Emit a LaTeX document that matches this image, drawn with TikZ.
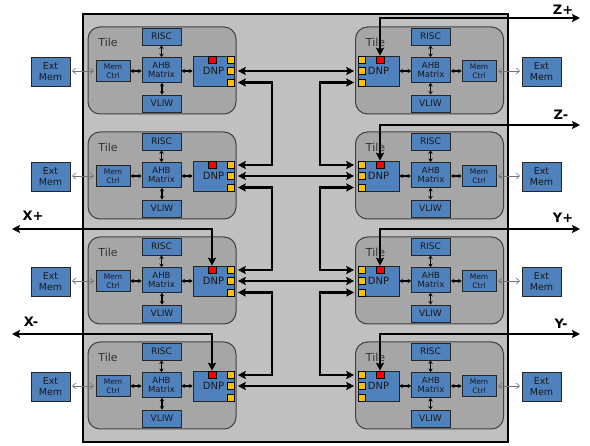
\documentclass[tikz,border=0pt]{standalone}
\usepackage{fontspec}
\setmainfont{DejaVu Sans}
\usepackage{xcolor}
\usetikzlibrary{arrows.meta}

\definecolor{boxblue}{HTML}{4F81BD}
\definecolor{chipgray}{HTML}{C0C0C0}
\definecolor{tilegray}{HTML}{A6A6A6}
\definecolor{portyel}{HTML}{FFC000}

\begin{document}
\begin{tikzpicture}[x=1pt, y=-1pt,
    blk/.style={draw=black!85, fill=boxblue, line width=0.9pt, inner sep=0pt, align=center, text=black!90},
    cpubox/.style={blk, minimum width=39pt, minimum height=17pt, font=\fontsize{9}{10}\selectfont},
    ahbbox/.style={blk, minimum width=39pt, minimum height=25pt, font=\fontsize{8.5}{9.5}\selectfont},
    ctrlbox/.style={blk, minimum width=34pt, minimum height=21pt, font=\fontsize{7.5}{9}\selectfont},
    extbox/.style={blk, minimum width=39pt, minimum height=29pt, font=\fontsize{9.5}{11.5}\selectfont},
    dnpbox/.style={blk, minimum width=41pt, minimum height=30pt, font=\fontsize{10}{11}\selectfont},
    tilebox/.style={draw=black!75, fill=tilegray, line width=1pt, rounded corners=12pt, minimum width=148pt, minimum height=87pt},
    tilelab/.style={text=black!80, font=\fontsize{11}{12}\selectfont, inner sep=0pt},
    port/.style={draw=black, fill=portyel, line width=0.6pt, minimum size=7pt, inner sep=0pt},
    redport/.style={draw=black, fill=red, line width=0.6pt, minimum width=8pt, minimum height=7pt, inner sep=0pt},
    link/.style={line width=1.3pt, <->, >={Stealth[length=3.5pt,width=4.5pt]}},
    memlink/.style={draw=black!55, line width=0.6pt, <->, >={Straight Barb[length=3.5pt,width=6pt]}},
    bus/.style={line width=2.6pt, <->, >={Stealth[length=8pt,width=8pt,inset=1.5pt]}, shorten >=3.5pt, shorten <=3.5pt},
    iobus/.style={line width=2.6pt, <->, >={Stealth[length=8pt,width=8pt,inset=1.5pt]}},
    dirlab/.style={font=\fontsize{13}{14}\selectfont\bfseries, inner sep=0pt}
  ]
  \useasboundingbox (0,0) rectangle (590,446);

  % chip outline
  \node[draw=black, fill=chipgray, line width=1.5pt, minimum width=425pt, minimum height=428pt] (chip) at (295.5,228) {};

  % tiles, left and right column
  \foreach \i in {1,...,4}{
    \pgfmathsetmacro\y{27+105*(\i-1)}
    % left
    \node[tilebox] (L\i tile) at (162,\y+43.5) {};
    \node[tilelab] (L\i lab) at (108,\y+15) {Tile};
    \node[cpubox] (L\i risc) at (161.5,\y+9.5) {RISC};
    \node[ahbbox] (L\i ahb) at (161.5,\y+43) {AHB\\Matrix};
    \node[cpubox] (L\i vliw) at (162,\y+76.5) {VLIW};
    \node[ctrlbox] (L\i mem) at (113,\y+44) {Mem\\Ctrl};
    \node[extbox] (L\i ext) at (50.5,\y+44.5) {Ext\\Mem};
    \node[dnpbox] (L\i dnp) at (213.5,\y+44) {DNP};
    \node[redport] (L\i red) at (212,\y+32.5) {};
    \node[port] (L\i pa) at (230.5,\y+33) {};
    \node[port] (L\i pb) at (230.5,\y+44) {};
    \node[port] (L\i pc) at (230.5,\y+55.5) {};
    \draw[link] (L\i risc.south) -- (L\i risc.south |- L\i ahb.north);
    \draw[link] (L\i vliw.north) -- (L\i vliw.north |- L\i ahb.south);
    \draw[link] (L\i mem.east) -- (L\i mem.east -| L\i ahb.west);
    \draw[link] (L\i ahb.east |- L\i dnp.west) -- (L\i dnp.west);
    \draw[memlink, shorten >=1.5pt, shorten <=1.5pt] (L\i ext.east |- L\i mem.west) -- (L\i mem.west);
    % right
    \node[tilebox] (R\i tile) at (429.5,\y+43.5) {};
    \node[tilelab] (R\i lab) at (375.5,\y+15) {Tile};
    \node[cpubox] (R\i risc) at (430.5,\y+9.5) {RISC};
    \node[ahbbox] (R\i ahb) at (431,\y+43) {AHB\\Matrix};
    \node[cpubox] (R\i vliw) at (430.5,\y+76.5) {VLIW};
    \node[ctrlbox] (R\i mem) at (479,\y+44) {Mem\\Ctrl};
    \node[extbox] (R\i ext) at (541.5,\y+44.5) {Ext\\Mem};
    \node[dnpbox] (R\i dnp) at (378.5,\y+44) {DNP};
    \node[redport] (R\i red) at (380,\y+32.5) {};
    \node[port] (R\i pa) at (361.5,\y+33) {};
    \node[port] (R\i pb) at (361.5,\y+44) {};
    \node[port] (R\i pc) at (361.5,\y+55.5) {};
    \draw[link] (R\i risc.south) -- (R\i risc.south |- R\i ahb.north);
    \draw[link] (R\i vliw.north) -- (R\i vliw.north |- R\i ahb.south);
    \draw[link] (R\i dnp.east) -- (R\i dnp.east -| R\i ahb.west);
    \draw[link] (R\i ahb.east |- R\i mem.west) -- (R\i mem.west);
    \draw[memlink, shorten >=1.5pt, shorten <=1.5pt] (R\i mem.east) -- (R\i mem.east -| R\i ext.west);
  }

  % network between the DNPs
  \coordinate (lbus) at (272,0);
  \coordinate (rbus) at (320,0);
  \foreach \i in {1,...,4}
    \draw[bus] (L\i pb.east) -- (R\i pb.west);
  \foreach \i/\j in {1/2,2/3,3/4}{
    \draw[bus] (L\i pc.east) -- (L\i pc.east -| lbus) |- (L\j pa.east);
    \draw[bus] (R\i pc.west) -- (R\i pc.west -| rbus) |- (R\j pa.west);
  }

  % off-chip links
  \coordinate (zp) at (580,18);
  \coordinate (zm) at (580,125);
  \coordinate (yp) at (580,229);
  \coordinate (ym) at (580,334);
  \coordinate (xp) at (12,229);
  \coordinate (xm) at (12,334);
  \draw[iobus] (zp) -| (R1red.north);
  \draw[iobus] (zm) -| (R2red.north);
  \draw[iobus] (yp) -| (R3red.north);
  \draw[iobus] (ym) -| (R4red.north);
  \draw[iobus] (xp) -| (L3red.north);
  \draw[iobus] (xm) -| (L4red.north);

  \node[dirlab] (zplab) at (563,9.5) {Z+};
  \node[dirlab] (zmlab) at (561,115) {Z-};
  \node[dirlab] (yplab) at (563,218) {Y+};
  \node[dirlab] (ymlab) at (561,324) {Y-};
  \node[dirlab] (xplab) at (33,216) {X+};
  \node[dirlab] (xmlab) at (31,322) {X-};
\end{tikzpicture}
\end{document}
